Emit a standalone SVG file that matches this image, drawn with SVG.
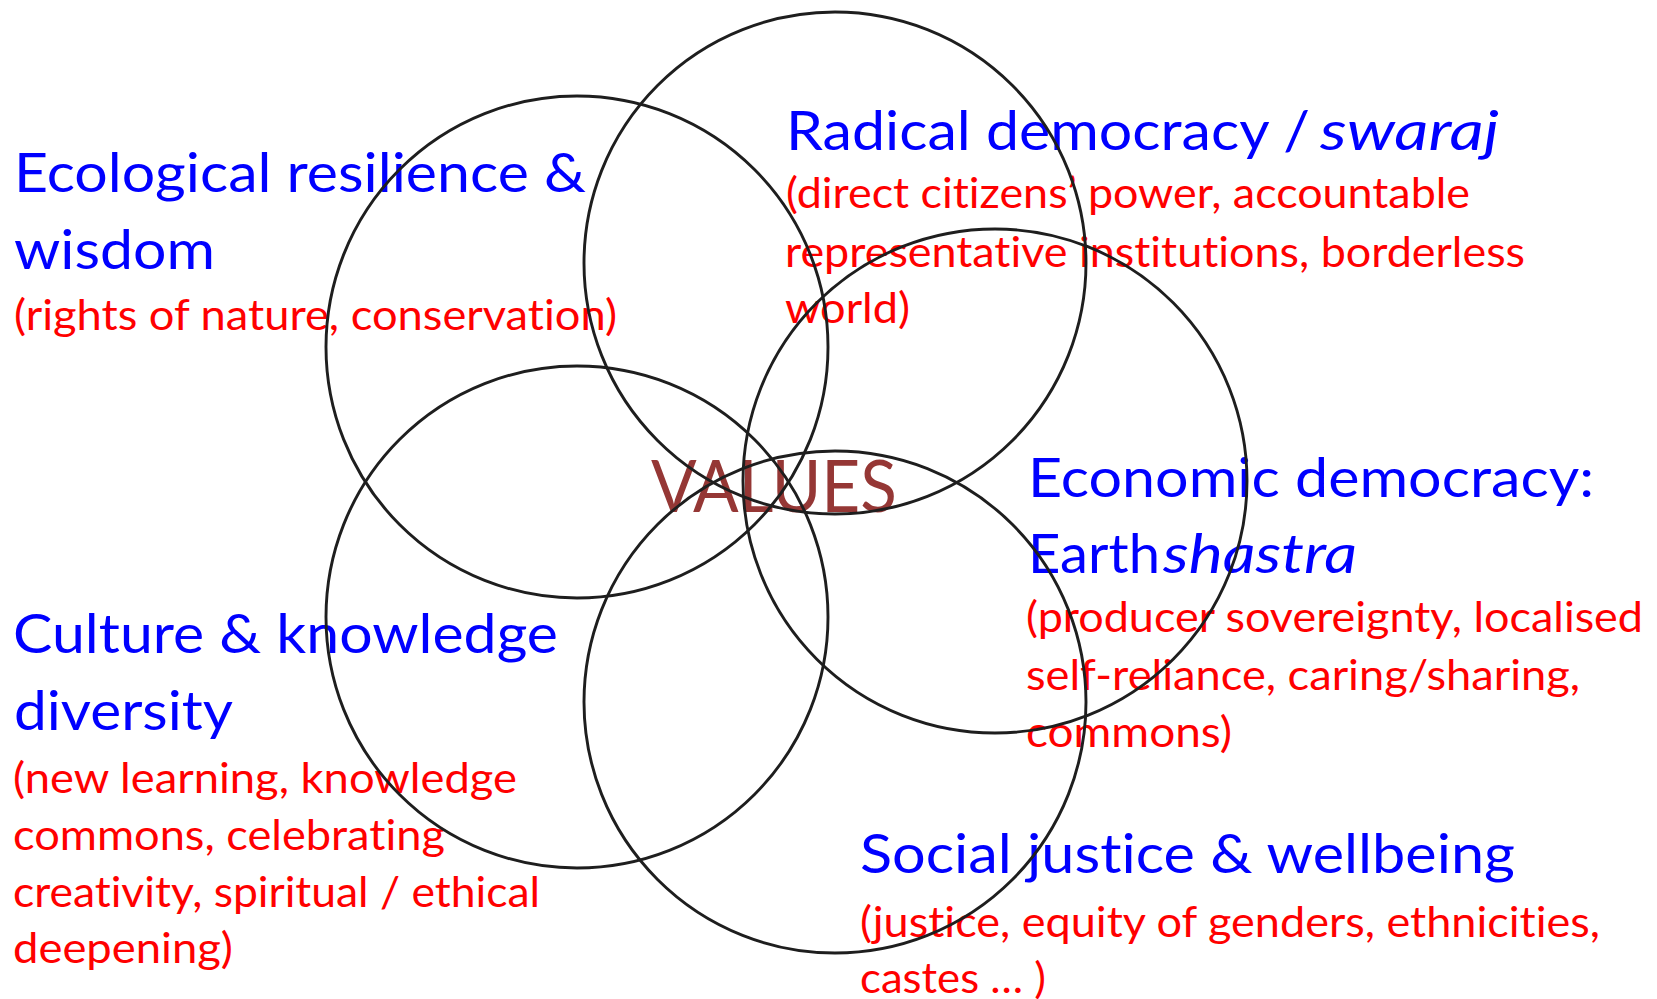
<svg xmlns="http://www.w3.org/2000/svg" width="1657" height="999" viewBox="0 0 1657 999">
<style>
text{font-family:Lato,"Open Sans","Liberation Sans",sans-serif;font-variant-ligatures:none;font-feature-settings:"liga" 0,"clig" 0;}
.h{fill:#0000FF;font-size:55px;}
.d{fill:#FF0000;font-size:43px;}
.i{font-style:italic;}
.v{fill:#953735;font-size:72px;}
.c{fill:none;stroke:#1e1e1e;stroke-width:2.9;}
</style>
<rect width="1657" height="999" fill="#FFFFFF"/>
<g id="node-ecological">
<text class="h" x="14" y="192" textLength="572" lengthAdjust="spacingAndGlyphs">Ecological resilience &amp;</text>
<text class="h" x="14" y="269" textLength="201" lengthAdjust="spacingAndGlyphs">wisdom</text>
<text class="d" x="14" y="330" textLength="603" lengthAdjust="spacingAndGlyphs">(rights of nature, conservation)</text>
</g>
<g id="node-radical">
<text class="h" x="786" y="150" textLength="524" lengthAdjust="spacingAndGlyphs">Radical democracy /</text>
<text class="h i" x="1320" y="150" textLength="179" lengthAdjust="spacingAndGlyphs">swaraj</text>
<text class="d" x="786" y="208" textLength="684" lengthAdjust="spacingAndGlyphs">(direct citizens’ power, accountable</text>
<text class="d" x="785" y="267" textLength="740" lengthAdjust="spacingAndGlyphs">representative institutions, borderless</text>
<text class="d" x="785" y="323" textLength="125" lengthAdjust="spacingAndGlyphs">world)</text>
</g>
<g id="node-economic">
<text class="h" x="1028" y="497" textLength="566" lengthAdjust="spacingAndGlyphs">Economic democracy:</text>
<text class="h" x="1028" y="573" textLength="132" lengthAdjust="spacingAndGlyphs">Earth</text>
<text class="h i" x="1163" y="573" textLength="194" lengthAdjust="spacingAndGlyphs">shastra</text>
<text class="d" x="1026" y="632" textLength="617" lengthAdjust="spacingAndGlyphs">(producer sovereignty, localised</text>
<text class="d" x="1026" y="690" textLength="554" lengthAdjust="spacingAndGlyphs">self-reliance, caring/sharing,</text>
<text class="d" x="1026" y="747" textLength="206" lengthAdjust="spacingAndGlyphs">commons)</text>
</g>
<g id="node-social">
<text class="h" x="860" y="873" textLength="655" lengthAdjust="spacingAndGlyphs">Social justice &amp; wellbeing</text>
<text class="d" x="860" y="937" textLength="740" lengthAdjust="spacingAndGlyphs">(justice, equity of genders, ethnicities,</text>
<text class="d" x="860" y="993" textLength="186" lengthAdjust="spacingAndGlyphs">castes … )</text>
</g>
<g id="node-culture">
<text class="h" x="13" y="653" textLength="545" lengthAdjust="spacingAndGlyphs">Culture &amp; knowledge</text>
<text class="h" x="14" y="730" textLength="219" lengthAdjust="spacingAndGlyphs">diversity</text>
<text class="d" x="13" y="793" textLength="504" lengthAdjust="spacingAndGlyphs">(new learning, knowledge</text>
<text class="d" x="13" y="850" textLength="432" lengthAdjust="spacingAndGlyphs">commons, celebrating</text>
<text class="d" x="13" y="907" textLength="527" lengthAdjust="spacingAndGlyphs">creativity, spiritual / ethical</text>
<text class="d" x="13" y="963" textLength="220" lengthAdjust="spacingAndGlyphs">deepening)</text>
</g>
<g id="node-values">
<text class="v" x="651" y="512" textLength="246" lengthAdjust="spacingAndGlyphs">VALUES</text>
</g>
<g id="connectors">
<circle class="c" cx="577" cy="347" r="251"/>
<circle class="c" cx="835" cy="263" r="251"/>
<circle class="c" cx="995" cy="481" r="252"/>
<circle class="c" cx="835" cy="702" r="251"/>
<circle class="c" cx="577" cy="617" r="251"/>
</g>
</svg>
